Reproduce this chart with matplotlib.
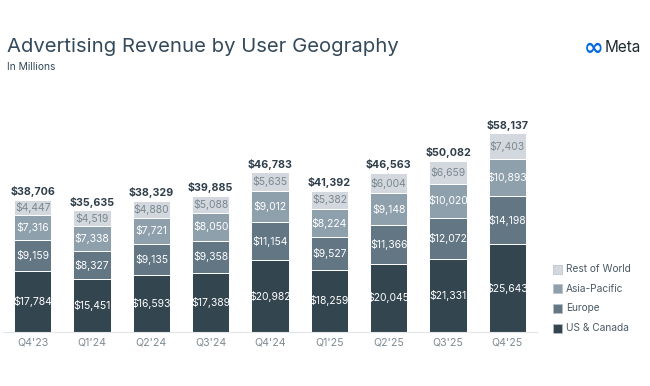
import matplotlib
matplotlib.use("Agg")
import matplotlib.pyplot as plt
from matplotlib.patches import Rectangle

quarters = ["Q4'23", "Q1'24", "Q2'24", "Q3'24", "Q4'24", "Q1'25", "Q2'25", "Q3'25", "Q4'25"]
us_canada = [17784, 15451, 16593, 17389, 20982, 18259, 20045, 21331, 25643]
europe = [9159, 8327, 9135, 9358, 11154, 9527, 11366, 12072, 14198]
asia_pacific = [7316, 7338, 7721, 8050, 9012, 8224, 9148, 10020, 10893]
rest_of_world = [4447, 4519, 4880, 5088, 5635, 5382, 6004, 6659, 7403]
totals = [38706, 35635, 38329, 39885, 46783, 41392, 46563, 50082, 58137]

series = [
    ("US & Canada", us_canada, "#33454f", "white"),
    ("Europe", europe, "#627684", "white"),
    ("Asia-Pacific", asia_pacific, "#8fa0ad", "white"),
    ("Rest of World", rest_of_world, "#d2d8dd", "#7b8891"),
]

FONT = "Inter"
W, H = 650, 386
fig = plt.figure(figsize=(W / 100, H / 100), dpi=100)
fig.patch.set_facecolor("white")

left, right, bottom, top = 3, 537, 332, 110
ax = fig.add_axes([left / W, 1 - bottom / H, (right - left) / W, (bottom - top) / H])
x = list(range(len(quarters)))
ax.set_xlim(-0.5, len(quarters) - 0.5)
ax.set_ylim(0, 222 / 0.003415)

base = [0] * len(quarters)
for name, vals, col, tcol in series:
    ax.bar(x, vals, bottom=base, width=0.63, color=col, edgecolor="white", linewidth=0.7, label=name)
    for i, v in enumerate(vals):
        ax.text(i, base[i] + v / 2, f"${v:,}", ha="center", va="center", color=tcol,
                fontsize=7.5, family=FONT)
    base = [b + v for b, v in zip(base, vals)]

for i, t in enumerate(totals):
    ax.text(i, base[i] + 800, f"${t:,}", ha="center", va="bottom", color="#2f3f4b",
            fontsize=7.7, fontweight="bold", family=FONT)

for s in ["top", "right", "left"]:
    ax.spines[s].set_visible(False)
ax.spines["bottom"].set_color("#e3e6e9")
ax.spines["bottom"].set_linewidth(0.8)
ax.set_yticks([])
ax.set_xticks(x)
ax.set_xticklabels(quarters, fontsize=7.6, color="#7f8a92", family=FONT)
ax.tick_params(axis="x", length=0, pad=4)

fig.text(7 / W, 1 - 47 / H, "Advertising Revenue by User Geography", fontsize=14.6,
         color="#34495a", family=FONT, va="center", ha="left")
fig.text(7 / W, 1 - 67 / H, "In Millions", fontsize=7.4, color="#34495a", family=FONT,
         va="center", ha="left")

fig.text(594 / W, 1 - 48 / H, "\u221e", fontsize=17, color="#0668E1", family="DejaVu Sans",
         va="center", ha="center", fontweight="bold")
fig.text(605 / W, 1 - 48 / H, "Meta", fontsize=11, color="#1c2b33", family=FONT,
         va="center", ha="left")

leg_items = [("Rest of World", "#d2d8dd"), ("Asia-Pacific", "#8fa0ad"),
             ("Europe", "#627684"), ("US & Canada", "#33454f")]
for k, (name, col) in enumerate(leg_items):
    yc = 269 + k * 19.7
    fig.patches.append(Rectangle((553 / W, 1 - (yc + 4.5) / H), 9 / W, 9 / H,
                                 transform=fig.transFigure, facecolor=col,
                                 edgecolor="#b8c0c6", linewidth=0.5))
    fig.text(566 / W, 1 - yc / H, name, fontsize=7.3, color="#4a5a66", family=FONT,
             va="center", ha="left")

fig.savefig("out.png", dpi=100)
